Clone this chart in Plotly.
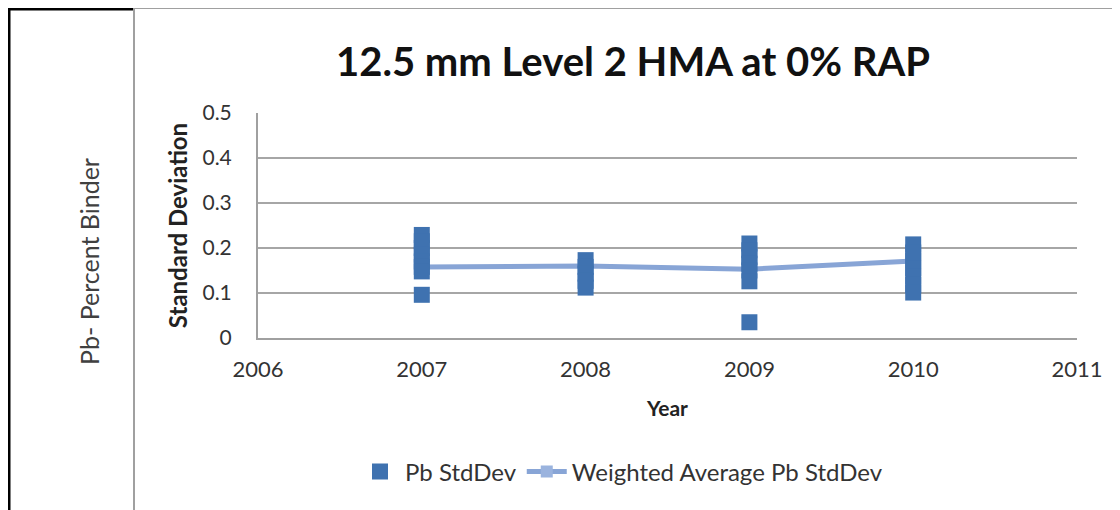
import plotly.graph_objects as go

# Data
years_pts = [2007]*8 + [2008]*5 + [2009]*7 + [2010]*7
pb_stddev = [0.229, 0.215, 0.200, 0.185, 0.170, 0.158, 0.148, 0.096,
             0.173, 0.158, 0.143, 0.127, 0.112,
             0.210, 0.195, 0.180, 0.165, 0.150, 0.126, 0.035,
             0.208, 0.190, 0.172, 0.155, 0.137, 0.118, 0.101]
years_avg = [2007, 2008, 2009, 2010]
weighted_avg = [0.158, 0.160, 0.153, 0.171]
y_ticks = [0, 0.1, 0.2, 0.3, 0.4, 0.5]
y_tick_labels = ["0", "0.1", "0.2", "0.3", "0.4", "0.5"]
x_ticks = [2006, 2007, 2008, 2009, 2010, 2011]

OFF = 8  # page body margin
W, H = 1120 - OFF, 510 - OFF
L, R, T, B = 258 - OFF, 1077 - OFF, 113 - OFF, 338 - OFF


def px(x):
    return (x - OFF - L) / (R - L)


def py(y):
    return (B - (y - OFF)) / (B - T)


fig = go.Figure()
# average line drawn first so its square markers sit under the data squares
fig.add_trace(go.Scatter(
    x=years_avg, y=weighted_avg, mode="lines+markers", name="Weighted Average Pb StdDev",
    line=dict(color="#88A5D6", width=5),
    marker=dict(symbol="square", size=12, color="#9AB3DE"),
    legendrank=2,
))
fig.add_trace(go.Scatter(
    x=years_pts, y=pb_stddev, mode="markers", name="Pb StdDev",
    marker=dict(symbol="square", size=16, color="#3F72B0"),
    legendrank=1,
))

font_main = "Lato"
fig.update_layout(
    width=W, height=H, autosize=False,
    margin=dict(l=L, r=W - R, t=T, b=H - B),
    paper_bgcolor="white", plot_bgcolor="white",
    showlegend=True,
    legend=dict(orientation="h", x=px(355), y=py(472), xanchor="left", yanchor="middle",
                font=dict(family=font_main, size=24, color="#333333"),
                itemwidth=40, tracegroupgap=0),
    title=dict(text="<b>12.5 mm Level 2 HMA at 0% RAP</b>", x=px(633), xref="paper",
               y=1 - (62 - OFF) / H, yanchor="middle", xanchor="center",
               font=dict(family=font_main, size=40, color="#111111")),
    xaxis=dict(range=[2006, 2011], tickvals=x_ticks, ticktext=[str(v) for v in x_ticks],
               showgrid=False, showline=True, linecolor="#A0A0A0", linewidth=2,
               ticks="", zeroline=False, ticklabelstandoff=11,
               tickfont=dict(family=font_main, size=22, color="#333333"),
               title=dict(text="<b>Year</b>", font=dict(family=font_main, size=21, color="#222222"),
                          standoff=20)),
    yaxis=dict(range=[0, 0.5], tickvals=y_ticks, ticktext=y_tick_labels,
               showgrid=True, gridcolor="#A6A6A6", gridwidth=2,
               showline=True, linecolor="#A0A0A0", linewidth=2, ticks="", zeroline=False,
               ticklabelstandoff=20,
               tickfont=dict(family=font_main, size=21, color="#333333"),
               title=dict(text="<b>Standard Deviation</b>",
                          font=dict(family=font_main, size=24, color="#222222"), standoff=8)),
)

shapes = [
    # thick black left frame
    dict(type="line", xref="paper", yref="paper", x0=px(9), x1=px(9), y0=py(9), y1=py(520),
         line=dict(color="black", width=3)),
    dict(type="line", xref="paper", yref="paper", x0=px(8), x1=px(133), y0=py(9), y1=py(9),
         line=dict(color="black", width=3)),
    # gray frame
    dict(type="line", xref="paper", yref="paper", x0=px(134), x1=px(134), y0=py(8), y1=py(520),
         line=dict(color="#A0A0A0", width=2)),
    dict(type="line", xref="paper", yref="paper", x0=px(134), x1=px(1125), y0=py(8), y1=py(8),
         line=dict(color="#A0A0A0", width=2)),
]
fig.update_layout(shapes=shapes)

fig.add_annotation(text="Pb- Percent Binder", xref="paper", yref="paper",
                   x=px(72), y=py(262), showarrow=False, textangle=-90,
                   font=dict(family=font_main, size=25, color="#404040"))

fig.write_html("out.html")
